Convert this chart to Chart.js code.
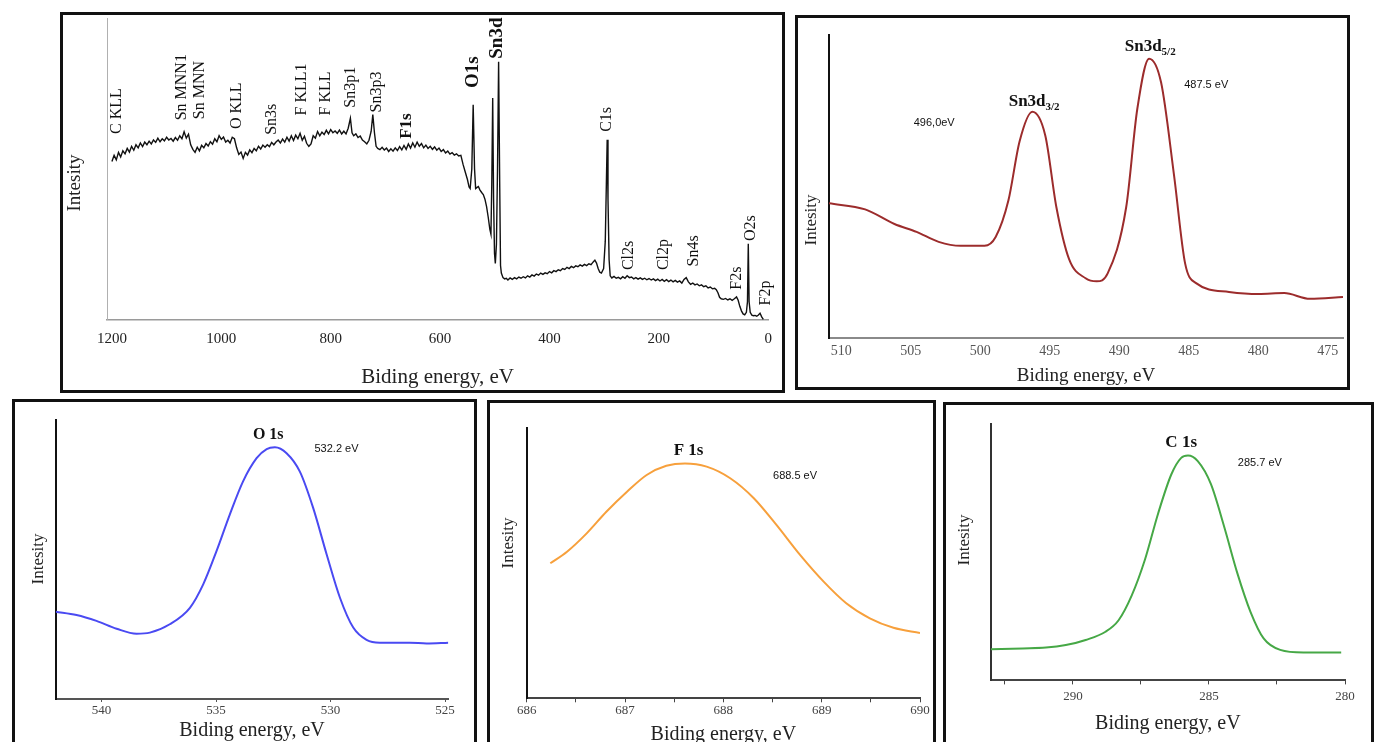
<!DOCTYPE html>
<html>
<head>
<meta charset="utf-8">
<script src="https://cdn.jsdelivr.net/npm/chart.js@4.4.0/dist/chart.umd.min.js"></script>
<style>
  body { margin: 0; background: #fff; width: 1374px; height: 742px; overflow: hidden; position: relative; }
  .panel { position: absolute; border: 3px solid #111; box-sizing: border-box; background: #fff; }
  .panel canvas { position: absolute; left: 0; top: 0; }
</style>
</head>
<body>
<div class="panel" style="left:60px;top:12px;width:725px;height:381px"><canvas id="survey" width="719" height="375"></canvas></div>
<div class="panel" style="left:795px;top:15px;width:555px;height:375px"><canvas id="sn3d" width="549" height="369"></canvas></div>
<div class="panel" style="left:12px;top:399px;width:465px;height:360px"><canvas id="o1s" width="459" height="354"></canvas></div>
<div class="panel" style="left:487px;top:400px;width:449px;height:360px"><canvas id="f1s" width="443" height="354"></canvas></div>
<div class="panel" style="left:943px;top:402px;width:431px;height:360px"><canvas id="c1s" width="425" height="354"></canvas></div>

<script>
// survey spectrum (binding energy, eV / relative intensity)
const surveyEnergy = [1200,1196,1192,1188,1184,1180,1176,1172,1168,1164,1160,1156,1152,1148,1144,1140,1136,1132,1128,1124,
  1120,1116,1112,1108,1104,1100,1096,1092,1088,1084,1080,1076,1072,1068,1064,1060,1056,1052,1048,1044,
  1040,1036,1032,1028,1024,1020,1016,1012,1008,1004,1000,996,992,988,984,980,976,972,968,964,
  960,956,952,948,944,940,936,932,928,924,920,916,912,908,904,900,896,892,888,884,
  880,876,872,868,864,860,856,852,848,844,840,836,832,828,824,820,816,812,808,804,
  800,796,792,788,784,780,776,772,768,764,761,758,754,750,746,742,738,734,730,726,
  723,720,717,714,710,706,702,698,694,690,686,682,678,674,670,666,662,658,654,650,
  646,642,638,634,630,626,622,618,614,610,606,602,598,594,590,586,582,578,574,570,
  566,562,558,554,550,547,545,542,539.5,537,535,533,530,527,524,521,518,515,512,509,
  507,505.5,503.8,502.2,500.5,499,497,495,493,491,489.5,488,485,482,479,476,472,468,464,460,
  456,452,448,444,440,436,432,428,424,420,416,412,408,404,400,396,392,388,384,380,
  376,372,368,364,360,356,352,348,344,340,336,332,328,324,320,317,314,311,308,305,
  301,298,296,294.5,293,291,289,286,282,278,274,270,266,262,258,254,250,246,242,238,
  234,230,226,222,218,214,210,206,202,198,194,190,186,182,178,174,170,166,162,158,
  154,150,146,142,138,134,130,126,122,118,114,110,106,102,98,95,92,89,86,82,
  78,74,70,66,62,58,55,52,49,46,43,40,38,36.5,35,33,30,27,24,21,18,15,12,9];
const surveyIntensity = [52.5,54.5,53.0,55.5,54.0,56.0,55.0,56.8,55.6,57.5,56.2,58.0,57.0,58.6,57.4,58.9,58.0,59.2,58.3,59.6,
  58.8,60.2,59.0,60.0,59.3,60.5,59.6,60.1,59.2,60.4,59.5,61.0,60.0,62.3,60.2,61.5,58.0,56.5,55.5,57.2,
  56.0,57.8,57.0,58.4,57.6,59.0,58.2,60.0,59.0,61.0,59.8,60.6,58.9,59.5,58.6,60.5,60.0,57.0,54.8,55.6,
  53.5,55.5,54.6,56.3,55.4,56.8,56.0,57.5,56.6,57.9,57.2,58.0,57.4,58.8,58.0,58.9,59.6,58.6,59.9,58.9,
  60.5,59.2,61.0,59.4,61.2,60.0,61.8,59.5,60.8,58.5,57.5,58.3,61.0,60.2,62.4,61.0,62.2,61.4,62.8,61.6,
  63.0,62.0,62.6,61.8,62.9,61.6,62.5,61.6,63.5,66.8,62.0,61.0,61.6,60.4,60.9,59.6,59.0,58.3,59.5,62.5,
  68.0,62.0,57.5,56.8,56.4,57.2,56.3,56.9,55.8,56.7,55.9,57.0,56.1,57.4,56.3,57.8,56.5,58.3,56.9,58.6,
  57.2,58.9,57.5,58.4,57.0,57.9,56.8,57.5,56.5,57.3,56.2,56.9,55.8,56.4,55.3,55.9,54.9,55.4,54.6,55.0,
  54.3,54.5,51.5,49.0,46.5,44.0,43.5,50.0,71.3,50.0,43.5,43.8,44.2,43.0,42.2,41.5,40.0,37.5,34.0,30.0,
  28.4,45.0,73.5,40.0,22.0,18.7,25.0,50.0,85.5,45.0,18.0,15.5,14.0,13.6,13.8,13.2,13.9,13.4,14.0,13.6,
  14.2,13.8,14.3,13.9,14.6,14.2,14.9,14.5,15.2,14.8,15.5,15.1,15.6,15.3,16.0,15.6,16.3,16.0,16.6,16.3,
  17.0,16.7,17.4,17.0,17.7,17.3,17.9,17.6,18.2,17.8,18.4,18.0,18.6,18.3,19.2,19.8,18.8,17.0,15.8,15.5,
  17.0,26.0,45.0,59.7,40.0,20.0,14.6,13.9,14.4,13.8,14.1,13.6,14.3,13.8,14.6,14.0,14.2,13.6,14.0,13.5,
  13.9,13.4,13.8,13.3,13.7,13.2,13.6,13.0,13.5,12.9,13.4,12.8,13.3,12.7,13.2,12.6,13.1,12.5,12.9,12.2,
  13.4,14.0,12.6,11.8,12.2,11.6,11.9,11.3,11.6,11.0,11.3,10.6,10.9,10.3,10.5,10.0,9.0,7.5,7.0,6.8,
  7.1,6.6,7.0,6.5,7.0,7.6,6.5,4.5,3.0,2.0,1.7,2.5,6.0,25.2,6.0,2.5,1.6,1.4,1.5,1.2,1.6,2.2,1.0,0.2];
const surveyTicks = [1200, 1000, 800, 600, 400, 200, 0];
const surveyPeakNames = ["C KLL", "Sn MNN1", "Sn MNN", "O KLL", "Sn3s", "F KLL1", "F KLL", "Sn3p1", "Sn3p3", "F1s",
  "O1s", "Sn3d", "C1s", "Cl2s", "Cl2p", "Sn4s", "F2s", "O2s", "F2p"];
const surveyPeakEnergy = [1191, 1073, 1040, 971, 907, 853, 809, 764, 716, 662, 540, 495, 295, 255, 191, 136, 58, 31, 4];
const surveyPeakLevel = [61.6, 66.1, 66.5, 63.2, 61.3, 67.7, 67.7, 70.3, 68.7, 60, 76.8, 86.5, 62.3, 16.5, 16.5, 17.7, 10, 26.1, 4.8];
const surveyPeakBold = ["F1s", "O1s", "Sn3d"];

// Sn 3d region
const sn3dEnergy = [510.88,508.28,506.17,504.58,502.99,501.41,499.69,498.89,497.97,497.17,496.25,495.32,494.52,493.60,492.42,
  491.62,490.83,489.50,488.70,487.85,486.99,486.06,485.26,484.47,482.10,479.98,478.13,476.28,473.90];
const sn3dIntensity = [44.5,42.5,37.7,35.1,31.8,30.5,30.5,33.4,45.5,64.9,74.7,66.9,43.2,26.0,19.8,
  18.8,21.4,43.2,75.6,92.2,84.4,53.9,24.7,18.2,15.3,14.6,14.9,13.0,13.6];
const sn3dTicks = [510, 505, 500, 495, 490, 485, 480, 475];

// O 1s region
const o1sEnergy = [542.0,541.09,540.22,539.34,538.47,537.89,537.02,536.14,535.56,534.98,534.40,533.82,533.23,532.79,532.43,
  531.92,531.34,530.76,530.17,529.59,529.01,528.43,527.85,526.54,525.81,524.86];
const o1sIntensity = [31.3,30.1,28.0,25.2,23.4,23.8,26.8,32.7,41.1,53.0,66.1,78.0,86.3,89.6,90.2,
  88.1,81.5,68.5,51.8,36.3,25.6,21.2,20.2,20.2,19.9,20.2];
const o1sTicks = [540, 535, 530, 525];

// F 1s region
const f1sEnergy = [686.24,686.41,686.61,686.81,687.02,687.22,687.42,687.61,687.83,688.07,688.31,688.54,688.78,689.02,689.25,
  689.49,689.73,690.0];
const f1sIntensity = [50.0,54.3,61.1,69.1,76.5,82.7,86.1,87.0,85.8,81.5,74.1,64.2,53.1,43.2,35.2,29.6,26.1,24.2];
const f1sTicks = [686, 686.5, 687, 687.5, 688, 688.5, 689, 689.5, 690];

// C 1s region
const c1sEnergy = [293.02,291.84,290.99,290.26,289.53,288.80,288.32,287.84,287.35,286.87,286.38,286.02,285.77,285.41,284.93,
  284.44,283.96,283.47,282.99,282.38,281.53,280.14];
const c1sIntensity = [12.2,12.5,12.8,13.8,15.8,19.0,23.5,33.1,47.2,65.1,80.5,86.9,87.8,85.6,76.7,
  60.0,42.0,26.7,16.4,11.9,10.9,10.9];
const c1sTicks = [292.5, 290, 287.5, 285, 282.5, 280];

const serif = "'Liberation Serif', 'DejaVu Serif', serif";
const sans = "'Liberation Sans', Arial, sans-serif";

const textPlugin = {
  id: 'peakText',
  afterDatasetsDraw(chart, args, opts) {
    const ctx = chart.ctx;
    const xs = chart.scales.x, ys = chart.scales.y;
    (opts.items || []).forEach(it => {
      const px = xs.getPixelForValue(it.x);
      const py = ys.getPixelForValue(it.y);
      ctx.save();
      ctx.fillStyle = it.color || '#111';
      ctx.translate(px, py);
      if (it.rotate) {
        ctx.rotate(-Math.PI / 2);
        ctx.font = it.font;
        ctx.textAlign = 'left';
        ctx.textBaseline = 'middle';
        ctx.fillText(it.text, 0, 0);
      } else {
        ctx.font = it.font;
        const w1 = ctx.measureText(it.text).width;
        let w2 = 0;
        if (it.sub) {
          ctx.font = it.subFont;
          w2 = ctx.measureText(it.sub).width;
        }
        const x0 = -(w1 + w2) / 2;
        ctx.textAlign = 'left';
        ctx.textBaseline = 'middle';
        ctx.font = it.font;
        ctx.fillText(it.text, x0, 0);
        if (it.sub) {
          ctx.font = it.subFont;
          ctx.fillText(it.sub, x0 + w1, 5);
        }
      }
      ctx.restore();
    });
    const t = opts.yTitle;
    if (t) {
      ctx.save();
      ctx.translate(t.x, t.y);
      ctx.rotate(-Math.PI / 2);
      ctx.font = t.font;
      ctx.fillStyle = '#222';
      ctx.textAlign = 'center';
      ctx.textBaseline = 'middle';
      ctx.fillText('Intesity', 0, 0);
      ctx.restore();
    }
  }
};

function makeChart(id, cfg) {
  const points = cfg.energy.map((e, i) => ({ x: e, y: cfg.intensity[i] }));
  return new Chart(document.getElementById(id), {
    type: 'line',
    data: {
      datasets: [{
        data: points,
        borderColor: cfg.color,
        borderWidth: cfg.lineWidth,
        pointRadius: 0,
        fill: false,
        tension: 0,
        cubicInterpolationMode: cfg.smooth ? 'monotone' : 'default'
      }]
    },
    options: {
      responsive: false,
      animation: false,
      devicePixelRatio: 1,
      layout: { padding: cfg.padding },
      plugins: {
        legend: { display: false },
        tooltip: { enabled: false },
        peakText: { items: cfg.labels, yTitle: cfg.yTitle }
      },
      scales: {
        x: {
          type: 'linear',
          reverse: cfg.reverse !== false,
          min: cfg.xMin,
          max: cfg.xMax,
          afterBuildTicks: scale => { scale.ticks = cfg.ticks.map(v => ({ value: v })); },
          ticks: {
            font: { family: serif, size: cfg.tickSize },
            color: cfg.tickColor,
            padding: cfg.tickPad,
            maxRotation: 0,
            autoSkip: false,
            callback: v => (cfg.tickShow ? cfg.tickShow(v) : true) ? String(v) : ''
          },
          grid: {
            display: cfg.tickMarks > 0,
            drawOnChartArea: false,
            drawTicks: cfg.tickMarks > 0,
            tickLength: cfg.tickMarks,
            color: cfg.xAxisColor
          },
          border: { display: true, color: cfg.xAxisColor, width: cfg.xAxisWidth },
          title: {
            display: true,
            text: 'Biding energy, eV',
            color: '#222',
            font: { family: serif, size: cfg.titleSize, lineHeight: 1.1 },
            padding: { top: cfg.titlePad, bottom: 0 }
          }
        },
        y: {
          type: 'linear',
          min: 0,
          max: 100,
          ticks: { display: false },
          grid: { display: false, drawTicks: false },
          border: { display: true, color: cfg.yAxisColor, width: cfg.yAxisWidth }
        }
      }
    },
    plugins: [textPlugin]
  });
}

// survey
const surveyLabels = surveyPeakNames.map((n, i) => {
  const bold = surveyPeakBold.includes(n);
  const size = n === 'F1s' ? 17 : (bold ? 19 : 16);
  return { text: n, x: surveyPeakEnergy[i], y: surveyPeakLevel[i], rotate: true,
    font: (bold ? 'bold ' : '') + size + 'px ' + serif };
});
makeChart('survey', {
  energy: surveyEnergy, intensity: surveyIntensity, ticks: surveyTicks,
  xMin: 0, xMax: 1209, color: '#111', lineWidth: 1.4, smooth: false,
  padding: { left: 44, right: 10, top: 3, bottom: 1 },
  tickSize: 15, tickColor: '#222', tickPad: 10, tickMarks: 0,
  titleSize: 21, titlePad: 8,
  xAxisColor: '#9a9a9a', xAxisWidth: 1.5, yAxisColor: '#b0b0b0', yAxisWidth: 1,
  labels: surveyLabels,
  yTitle: { x: 12, y: 168, font: '19px ' + serif }
});

// Sn 3d
makeChart('sn3d', {
  energy: sn3dEnergy, intensity: sn3dIntensity, ticks: sn3dTicks,
  xMin: 473.9, xMax: 510.88, color: '#9c2c2c', lineWidth: 2, smooth: true,
  padding: { left: 31, right: 4, top: 17, bottom: 1 },
  tickSize: 14, tickColor: '#555', tickPad: 5, tickMarks: 0,
  titleSize: 19, titlePad: 0,
  xAxisColor: '#8a8a8a', xAxisWidth: 2, yAxisColor: '#111', yAxisWidth: 2,
  labels: [
    { text: 'Sn3d', sub: '3/2', x: 496.12, y: 78.0, font: 'bold 17px ' + serif, subFont: 'bold 11px ' + serif },
    { text: 'Sn3d', sub: '5/2', x: 487.77, y: 96.1, font: 'bold 17px ' + serif, subFont: 'bold 11px ' + serif },
    { text: '496,0eV', x: 503.31, y: 71.0, font: '11px ' + sans },
    { text: '487.5 eV', x: 483.74, y: 83.4, font: '11px ' + sans }
  ],
  yTitle: { x: 14, y: 202, font: '17px ' + serif }
});

// O 1s
makeChart('o1s', {
  energy: o1sEnergy, intensity: o1sIntensity, ticks: o1sTicks,
  xMin: 524.86, xMax: 542.0, color: '#4a4af2', lineWidth: 2, smooth: true,
  padding: { left: 40.7, right: 25.7, top: 18, bottom: 14.4 },
  tickSize: 13, tickColor: '#444', tickPad: 1, tickMarks: 3,
  titleSize: 20, titlePad: 0,
  xAxisColor: '#555', xAxisWidth: 2, yAxisColor: '#111', yAxisWidth: 2,
  labels: [
    { text: 'O 1s', x: 532.72, y: 94.6, font: 'bold 16px ' + serif },
    { text: '532.2 eV', x: 529.74, y: 89.6, font: '11px ' + sans }
  ],
  yTitle: { x: 24, y: 157, font: '17px ' + serif }
});

// F 1s (axis runs low to high here)
makeChart('f1s', {
  energy: f1sEnergy, intensity: f1sIntensity, ticks: f1sTicks,
  xMin: 686, xMax: 690, reverse: false, color: '#f7a03c', lineWidth: 2, smooth: true,
  padding: { left: 36.7, right: 13, top: 25.3, bottom: 11.1 },
  tickSize: 13, tickColor: '#444', tickPad: 0, tickMarks: 4,
  tickShow: v => Number.isInteger(v),
  titleSize: 20, titlePad: 6,
  xAxisColor: '#444', xAxisWidth: 2, yAxisColor: '#111', yAxisWidth: 2,
  labels: [
    { text: 'F 1s', x: 687.646, y: 91.6, font: 'bold 17px ' + serif },
    { text: '688.5 eV', x: 688.729, y: 82.3, font: '11px ' + sans }
  ],
  yTitle: { x: 19, y: 140, font: '17px ' + serif }
});

// C 1s
makeChart('c1s', {
  energy: c1sEnergy, intensity: c1sIntensity, ticks: c1sTicks,
  xMin: 280, xMax: 293.02, color: '#46a846', lineWidth: 2, smooth: true,
  padding: { left: 44.7, right: 26, top: 19.3, bottom: 24.7 },
  tickSize: 13, tickColor: '#444', tickPad: 3.9, tickMarks: 4,
  tickShow: v => v % 5 === 0,
  titleSize: 20, titlePad: 4.5,
  xAxisColor: '#444', xAxisWidth: 2, yAxisColor: '#333', yAxisWidth: 2,
  labels: [
    { text: 'C 1s', x: 286.02, y: 92.7, font: 'bold 17px ' + serif },
    { text: '285.7 eV', x: 283.13, y: 85.0, font: '11px ' + sans }
  ],
  yTitle: { x: 19, y: 135, font: '17px ' + serif }
});
</script>
</body>
</html>
